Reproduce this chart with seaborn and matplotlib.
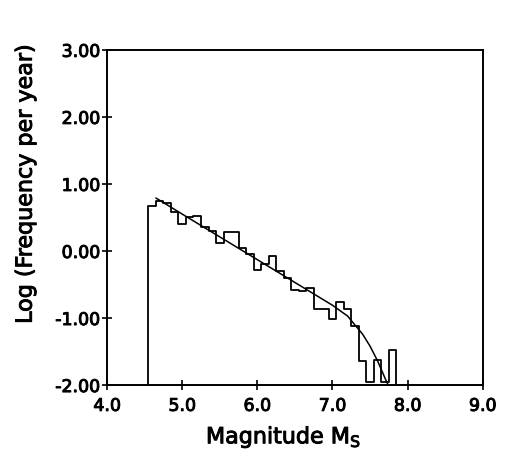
import numpy as np
import pandas as pd
import matplotlib
matplotlib.use("Agg")
import matplotlib.pyplot as plt
import matplotlib.patheffects as pe
import seaborn as sns

# Binned annual frequency of events (log10), 0.1-magnitude bins
bin_edges_left = [4.55, 4.65, 4.75, 4.85, 4.95, 5.05, 5.15, 5.25, 5.35, 5.45, 5.55,
                  5.65, 5.75, 5.85, 5.95, 6.05, 6.15, 6.25, 6.35, 6.45, 6.55, 6.65,
                  6.75, 6.85, 6.95, 7.05, 7.15, 7.25, 7.35, 7.45, 7.55, 7.65, 7.75]
bin_right_end = 7.85
log_freq = [0.67, 0.74, 0.72, 0.58, 0.40, 0.50, 0.52, 0.36, 0.30, 0.12, 0.28,
            0.28, 0.05, -0.05, -0.28, -0.20, -0.08, -0.30, -0.40, -0.58, -0.60, -0.55,
            -0.86, -0.86, -1.02, -0.76, -0.86, -1.12, -1.64, -1.95, -1.62, -1.95, -1.48]

# Fitted recurrence curve
fit_mag = [4.65, 5.0, 5.5, 6.0, 6.5, 7.0, 7.2, 7.4, 7.5, 7.6, 7.7, 7.78]
fit_log = [0.79, 0.55, 0.21, -0.13, -0.47, -0.81, -0.97, -1.24, -1.42, -1.64, -1.90, -2.10]

x_ticks = [4.0, 5.0, 6.0, 7.0, 8.0, 9.0]
x_tick_labels = ["4.0", "5.0", "6.0", "7.0", "8.0", "9.0"]
y_ticks = [-2.0, -1.0, 0.0, 1.0, 2.0, 3.0]
y_tick_labels = ["-2.00", "-1.00", "0.00", "1.00", "2.00", "3.00"]

sns.set_style("ticks")
plt.rcParams["font.family"] = ["DejaVu Sans"]
plt.rcParams["mathtext.fontset"] = "dejavusans"

fig = plt.figure(figsize=(5.05, 4.53), dpi=100)
ax = fig.add_axes([0.212, 0.150, 0.744, 0.740])

# Step outline: rise from the floor at the first edge, drop back at the last
floor = y_ticks[0]
step_x = [bin_edges_left[0]] + bin_edges_left + [bin_right_end]
step_y = [floor] + log_freq + [floor]
hist_df = pd.DataFrame({"mag": step_x, "logf": step_y})
sns.lineplot(data=hist_df, x="mag", y="logf", estimator=None, sort=False,
             drawstyle="steps-post", color="black", linewidth=1.3, ax=ax)

fit_df = pd.DataFrame({"mag": fit_mag, "logf": fit_log})
sns.lineplot(data=fit_df, x="mag", y="logf", estimator=None, sort=False,
             color="black", linewidth=1.1, ax=ax)

ax.set_xlim(4.0, 9.0)
ax.set_ylim(-2.0, 3.0)
ax.set_xticks(x_ticks)
ax.set_xticklabels(x_tick_labels)
ax.set_yticks(y_ticks)
ax.set_yticklabels(y_tick_labels)
ax.tick_params(direction="inout", length=7, width=1.2, labelsize=12.5,
               colors="black")
ax.tick_params(axis="x", pad=5)
ax.tick_params(axis="y", pad=1.5)
for side in ["left", "right", "top", "bottom"]:
    ax.spines[side].set_visible(True)
    ax.spines[side].set_linewidth(1.4)
    ax.spines[side].set_color("black")

ax.set_xlabel(r"Magnitude M$_{\mathrm{S}}$", fontsize=16, color="black")
ax.set_ylabel("Log (Frequency per year)", fontsize=16, color="black")
ax.xaxis.set_label_coords(0.47, -0.12)
ax.yaxis.set_label_coords(-0.19, 0.60)

# Slightly heavier strokes on all lettering
heavier = [pe.withStroke(linewidth=0.7, foreground="black")]
for t in ax.get_xticklabels() + ax.get_yticklabels() + [ax.xaxis.label, ax.yaxis.label]:
    t.set_path_effects(heavier)

fig.savefig("out.png", dpi=100, facecolor="white")
